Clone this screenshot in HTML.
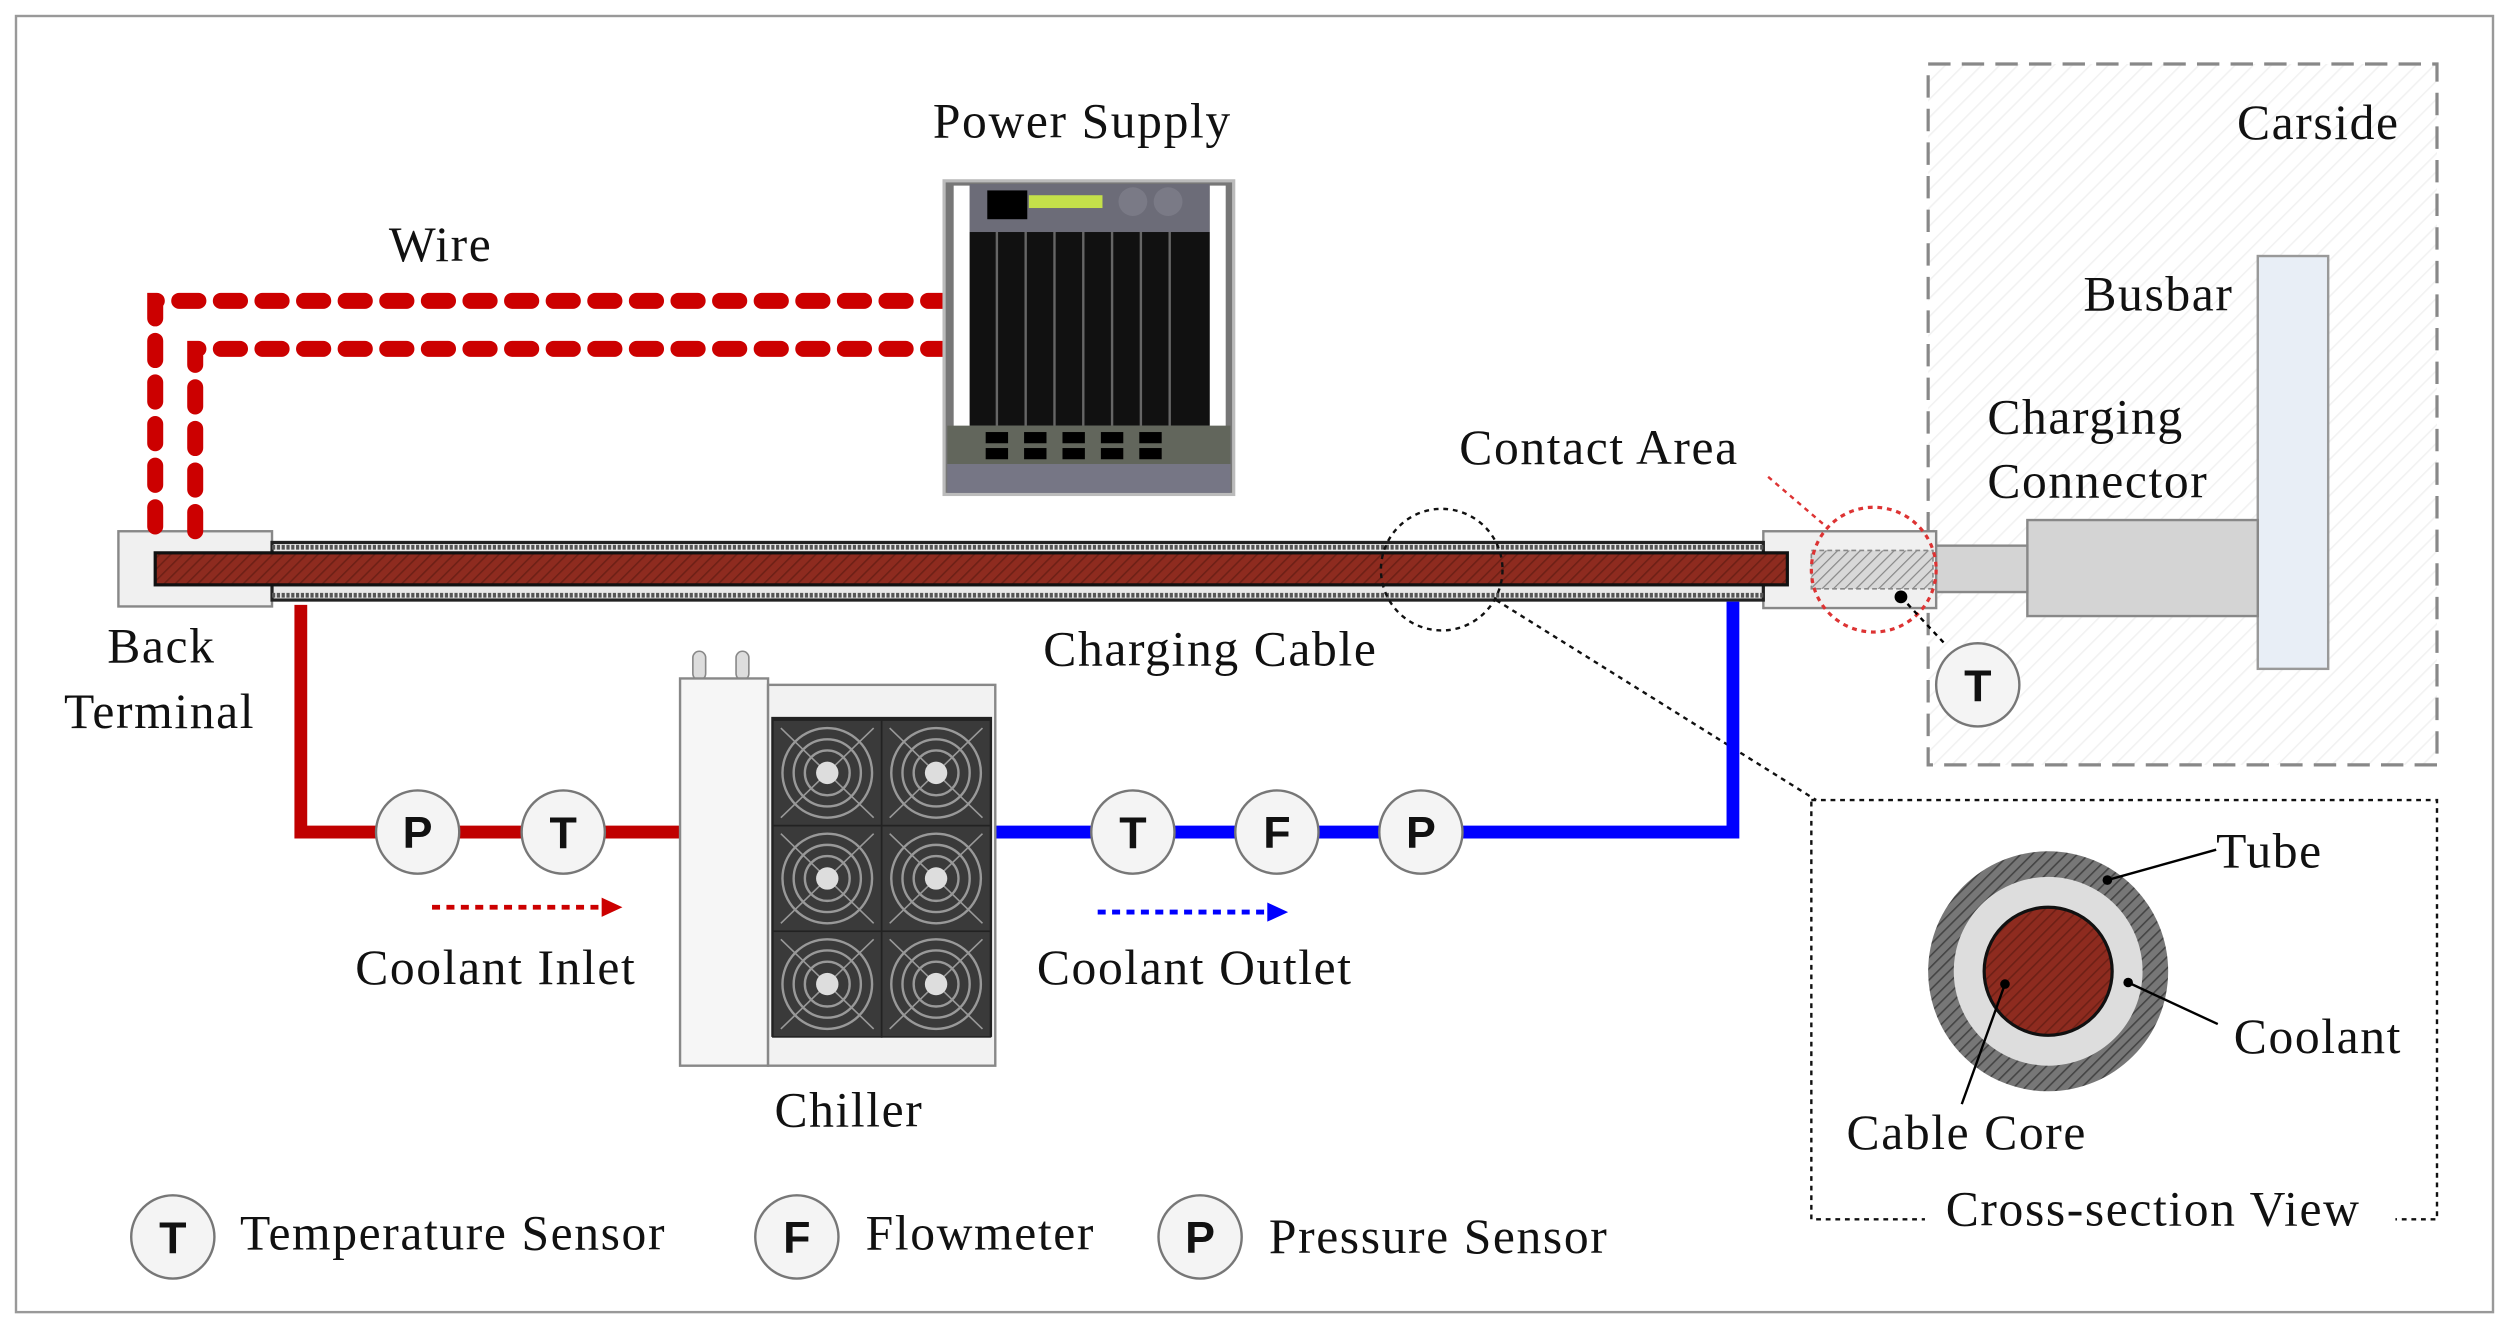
<!DOCTYPE html>
<html><head><meta charset="utf-8"><style>html,body{margin:0;padding:0;background:#fff}svg{display:block}text{font-family:"Liberation Serif",serif;fill:#111;letter-spacing:1px}text.s{font-family:"Liberation Sans",sans-serif;font-weight:bold;letter-spacing:0}</style></head><body>
<svg width="2509" height="1327" viewBox="0 0 1568 829.3" preserveAspectRatio="none" xmlns="http://www.w3.org/2000/svg">
<defs>
<pattern id="hr" width="5" height="5" patternUnits="userSpaceOnUse" patternTransform="rotate(45)"><rect width="5" height="5" fill="#8e2b1f"/><line x1="0" y1="0" x2="0" y2="5" stroke="#6e2016" stroke-width="2"/></pattern>
<pattern id="hg" width="5" height="5" patternUnits="userSpaceOnUse" patternTransform="rotate(45)"><rect width="5" height="5" fill="#d8d8d8"/><line x1="0" y1="0" x2="0" y2="5" stroke="#888" stroke-width="1.5"/></pattern>
<pattern id="hd" width="5" height="5" patternUnits="userSpaceOnUse" patternTransform="rotate(45)"><rect width="5" height="5" fill="#777"/><line x1="0" y1="0" x2="0" y2="5" stroke="#444" stroke-width="2"/></pattern>
<pattern id="hl" width="8" height="8" patternUnits="userSpaceOnUse" patternTransform="rotate(45)"><rect width="8" height="8" fill="#fff"/><line x1="0" y1="0" x2="0" y2="8" stroke="#f2f2f2" stroke-width="2"/></pattern>
<g id="fan"><rect x="0" y="0" width="68" height="66" fill="#3a3a3a" stroke="#222"/><circle cx="34" cy="33" r="28" fill="none" stroke="#999" stroke-width="1.5"/><circle cx="34" cy="33" r="21" fill="none" stroke="#999" stroke-width="1.5"/><circle cx="34" cy="33" r="14" fill="none" stroke="#999" stroke-width="1.5"/><line x1="5" y1="5" x2="63" y2="61" stroke="#999"/><line x1="63" y1="5" x2="5" y2="61" stroke="#999"/><circle cx="34" cy="33" r="7" fill="#ddd"/></g>
</defs>
<rect x="10" y="10" width="1548" height="810" fill="#fff" stroke="#999" stroke-width="1.5"/>
<rect x="1205" y="40" width="318" height="438" fill="url(#hl)" stroke="#888" stroke-width="2" stroke-dasharray="14 7"/>
<text x="1398" y="87" font-size="31">Carside</text>
<rect x="1411" y="160" width="44" height="258" fill="#e8eef6" stroke="#999" stroke-width="1.5"/>
<text x="1302" y="194" font-size="31">Busbar</text>
<text x="1242" y="271" font-size="31">Charging</text>
<text x="1242" y="311" font-size="31">Connector</text>
<rect x="1267" y="325" width="144" height="60" fill="#d4d4d4" stroke="#888" stroke-width="1.5"/>
<rect x="1208" y="341" width="59" height="29" fill="#d4d4d4" stroke="#888" stroke-width="1.5"/>
<rect x="1102" y="332" width="108" height="48" fill="#f0f0f0" stroke="#888" stroke-width="1.5"/>
<rect x="1132" y="344" width="76" height="24" fill="url(#hg)" stroke="#888" stroke-dasharray="3 2"/>
<rect x="74" y="332" width="96" height="47" fill="#f0f0f0" stroke="#888" stroke-width="1.5"/>
<rect x="170" y="339" width="932" height="36" fill="#e8e8e8" stroke="#222" stroke-width="2"/>
<line x1="170" y1="342" x2="1102" y2="342" stroke="#555" stroke-width="3" stroke-dasharray="2 1"/>
<line x1="170" y1="372" x2="1102" y2="372" stroke="#555" stroke-width="3" stroke-dasharray="2 1"/>
<rect x="97" y="345.5" width="1020" height="20" fill="url(#hr)" stroke="#111" stroke-width="2"/>
<text x="652" y="416" font-size="31">Charging Cable</text>
<text x="67" y="414" font-size="31">Back</text>
<text x="40" y="455" font-size="31">Terminal</text>
<text x="912" y="290" font-size="31">Contact Area</text>
<circle cx="901" cy="356" r="38" fill="none" stroke="#111" stroke-width="1.5" stroke-dasharray="3 3"/>
<circle cx="1171" cy="356" r="39" fill="none" stroke="#d33" stroke-width="2" stroke-dasharray="3 3"/>
<line x1="1105" y1="298" x2="1140" y2="328" stroke="#d33" stroke-width="1.5" stroke-dasharray="3 3"/>
<circle cx="1188" cy="373" r="4" fill="#000"/>
<line x1="1188" y1="373" x2="1216" y2="403" stroke="#000" stroke-width="1.5" stroke-dasharray="3 3"/>
<line x1="935" y1="375" x2="1135" y2="500" stroke="#111" stroke-width="1.5" stroke-dasharray="3 3"/>
<rect x="1132" y="500" width="391" height="262" fill="#fff" stroke="#111" stroke-width="1.5" stroke-dasharray="3 3"/>
<rect x="1203" y="745" width="294" height="30" fill="#fff"/>
<text x="1216" y="766" font-size="31">Cross-section View</text>
<circle cx="1280" cy="607" r="75" fill="url(#hd)"/>
<circle cx="1280" cy="607" r="59" fill="#ddd"/>
<circle cx="1280" cy="607" r="40" fill="url(#hr)" stroke="#111" stroke-width="2"/>
<line x1="1317" y1="550" x2="1385" y2="531" stroke="#000" stroke-width="1.5"/><circle cx="1317" cy="550" r="3"/>
<line x1="1330" y1="614" x2="1386" y2="640" stroke="#000" stroke-width="1.5"/><circle cx="1330" cy="614" r="3"/>
<line x1="1253" y1="615" x2="1226" y2="690" stroke="#000" stroke-width="1.5"/><circle cx="1253" cy="615" r="3"/>
<text x="1385" y="542" font-size="31">Tube</text>
<text x="1396" y="658" font-size="31">Coolant</text>
<text x="1154" y="718" font-size="31">Cable Core</text>
<text x="243" y="163" font-size="31">Wire</text>
<path d="M592 188 H97 V332" fill="none" stroke="#c00" stroke-width="10" stroke-linecap="round" stroke-dasharray="12 14"/>
<path d="M592 218 H122 V332" fill="none" stroke="#c00" stroke-width="10" stroke-linecap="round" stroke-dasharray="12 14"/>
<text x="583" y="86" font-size="31">Power Supply</text>
<rect x="590" y="113" width="181" height="196" fill="#777" stroke="#bbb" stroke-width="2"/>
<rect x="596" y="116" width="10" height="160" fill="#fff"/><rect x="756" y="116" width="10" height="160" fill="#fff"/>
<rect x="606" y="115" width="150" height="30" fill="#6c6c78"/>
<rect x="617" y="119" width="25" height="18" fill="#000"/>
<rect x="643" y="122" width="46" height="8" fill="#c4e04a"/>
<circle cx="708" cy="126" r="9" fill="#7a7a86"/><circle cx="730" cy="126" r="9" fill="#7a7a86"/>
<rect x="606" y="145" width="150" height="121" fill="#111"/>
<g stroke="#666" stroke-width="1.5"><line x1="623" y1="145" x2="623" y2="266"/><line x1="641" y1="145" x2="641" y2="266"/><line x1="659" y1="145" x2="659" y2="266"/><line x1="677" y1="145" x2="677" y2="266"/><line x1="695" y1="145" x2="695" y2="266"/><line x1="713" y1="145" x2="713" y2="266"/><line x1="731" y1="145" x2="731" y2="266"/></g>
<rect x="592" y="266" width="177" height="24" fill="#62665c"/>
<g fill="#000"><rect x="616" y="270" width="14" height="7"/><rect x="640" y="270" width="14" height="7"/><rect x="664" y="270" width="14" height="7"/><rect x="688" y="270" width="14" height="7"/><rect x="712" y="270" width="14" height="7"/><rect x="616" y="280" width="14" height="7"/><rect x="640" y="280" width="14" height="7"/><rect x="664" y="280" width="14" height="7"/><rect x="688" y="280" width="14" height="7"/><rect x="712" y="280" width="14" height="7"/></g>
<rect x="592" y="290" width="177" height="18" fill="#767685"/>
<path d="M188 378 V520 H425" fill="none" stroke="#c00000" stroke-width="8"/>
<path d="M622 520 H1083 V376" fill="none" stroke="#0000ff" stroke-width="8"/>
<line x1="270" y1="567" x2="378" y2="567" stroke="#c00" stroke-width="3" stroke-dasharray="5 4"/><polygon points="376,561 389,567 376,573" fill="#c00"/>
<line x1="686" y1="570" x2="794" y2="570" stroke="#00f" stroke-width="3" stroke-dasharray="5 4"/><polygon points="792,564 805,570 792,576" fill="#00f"/>
<text x="222" y="615" font-size="31">Coolant Inlet</text>
<text x="648" y="615" font-size="31">Coolant Outlet</text>
<rect x="433" y="407" width="8" height="18" rx="4" fill="#ddd" stroke="#888"/><rect x="460" y="407" width="8" height="18" rx="4" fill="#ddd" stroke="#888"/>
<rect x="425" y="424" width="55" height="242" fill="#f6f6f6" stroke="#888" stroke-width="1.5"/>
<rect x="480" y="428" width="142" height="238" fill="#f2f2f2" stroke="#888" stroke-width="1.5"/>
<rect x="482" y="448" width="138" height="200" fill="#222"/>
<use href="#fan" x="483" y="450"/><use href="#fan" x="551" y="450"/>
<use href="#fan" x="483" y="516"/><use href="#fan" x="551" y="516"/>
<use href="#fan" x="483" y="582"/><use href="#fan" x="551" y="582"/>
<text x="484" y="704" font-size="31">Chiller</text>
<g stroke="#777" stroke-width="1.5" fill="#f4f4f4">
<circle cx="261" cy="520" r="26"/><circle cx="352" cy="520" r="26"/><circle cx="708" cy="520" r="26"/><circle cx="798" cy="520" r="26"/><circle cx="888" cy="520" r="26"/><circle cx="1236" cy="428" r="26"/><circle cx="108" cy="773" r="26"/><circle cx="498" cy="773" r="26"/><circle cx="750" cy="773" r="26"/></g>
<g text-anchor="middle">
<text class="s" x="261" y="530" font-size="28">P</text><text class="s" x="352" y="530" font-size="28">T</text><text class="s" x="708" y="530" font-size="28">T</text><text class="s" x="798" y="530" font-size="28">F</text><text class="s" x="888" y="530" font-size="28">P</text><text class="s" x="1236" y="438" font-size="28">T</text><text class="s" x="108" y="783" font-size="28">T</text><text class="s" x="498" y="783" font-size="28">F</text><text class="s" x="750" y="783" font-size="28">P</text>
</g>
<text x="150" y="781" font-size="31">Temperature Sensor</text>
<text x="541" y="781" font-size="31">Flowmeter</text>
<text x="793" y="783" font-size="31">Pressure Sensor</text>
</svg>
</body></html>
